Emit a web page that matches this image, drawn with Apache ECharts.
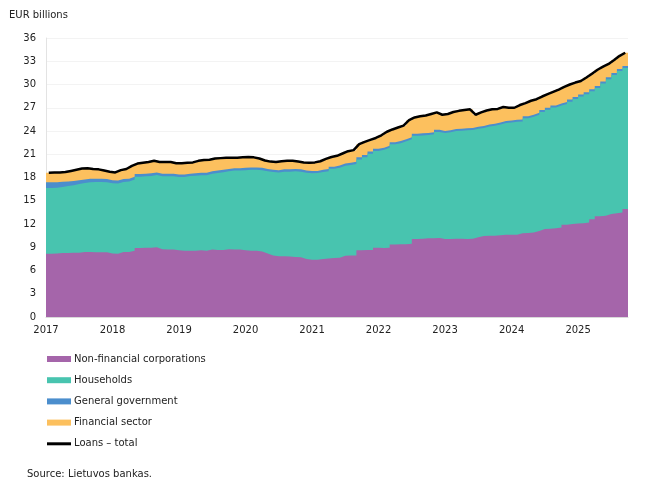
<!DOCTYPE html>
<html>
<head>
<meta charset="utf-8">
<script src="https://cdn.jsdelivr.net/npm/echarts@6/dist/echarts.min.js"></script>
<style>
  html, body { margin: 0; padding: 0; background: #fff; }
  #chart { width: 650px; height: 500px; }
</style>
</head>
<body>
<div id="chart"></div>
<script>
// monthly data, Jan 2017 - Sep 2025, EUR billions
const years = ["2017", "2018", "2019", "2020", "2021", "2022", "2023", "2024", "2025"];

const nonFinancial = [
  8.15, 8.2, 8.25, 8.25, 8.3, 8.3, 8.4, 8.4, 8.35, 8.35, 8.35, 8.2,
  8.15, 8.4, 8.4, 8.55, 8.9, 8.95, 8.95, 9.0, 8.75, 8.7, 8.7, 8.6,
  8.55, 8.55, 8.55, 8.6, 8.55, 8.7, 8.65, 8.65, 8.75, 8.7, 8.7, 8.6,
  8.55, 8.55, 8.45, 8.2, 7.95, 7.85, 7.85, 7.8, 7.75, 7.7, 7.5, 7.4,
  7.4, 7.5, 7.55, 7.6, 7.65, 7.9, 7.95, 7.95, 8.6, 8.65, 8.65, 8.95,
  8.9, 8.95, 9.35, 9.4, 9.4, 9.45, 10.05, 10.1, 10.15, 10.15, 10.2, 10.05,
  10.05, 10.1, 10.1, 10.05, 10.1, 10.3, 10.45, 10.5, 10.5, 10.55, 10.6, 10.6,
  10.6, 10.8, 10.85, 10.9, 11.1, 11.35, 11.4, 11.45, 11.55, 11.9, 12.0, 12.05,
  12.1, 12.2, 12.6, 13.0, 13.05, 13.3, 13.4, 13.5, 13.95
];
const households = [
  8.5, 8.48, 8.52, 8.65, 8.7, 8.85, 8.9, 9.0, 9.08, 9.08, 9.05, 9.05,
  9.07, 9.02, 9.09, 9.19, 9.2, 9.2, 9.25, 9.31, 9.41, 9.47, 9.47, 9.47,
  9.53, 9.63, 9.68, 9.68, 9.74, 9.79, 9.94, 10.04, 10.05, 10.2, 10.2, 10.35,
  10.45, 10.45, 10.5, 10.6, 10.75, 10.8, 10.9, 10.95, 11.05, 11.05, 11.1, 11.15,
  11.17, 11.22, 11.27, 11.52, 11.62, 11.62, 11.67, 11.8, 11.72, 11.97, 12.42, 12.47,
  12.68, 12.88, 12.93, 13.03, 13.28, 13.48, 13.33, 13.33, 13.33, 13.43, 13.68, 13.68,
  13.79, 13.89, 13.94, 14.04, 14.04, 13.99, 13.94, 14.09, 14.19, 14.29, 14.44, 14.49,
  14.59, 14.44, 14.79, 14.94, 14.99, 15.09, 15.34, 15.59, 15.74, 15.59, 15.79, 16.09,
  16.34, 16.54, 16.54, 16.54, 17.09, 17.39, 17.84, 18.24, 18.19
];
const government = [
  0.75, 0.72, 0.68, 0.6, 0.55, 0.5, 0.45, 0.45, 0.42, 0.42, 0.4, 0.4,
  0.38, 0.38, 0.36, 0.36, 0.35, 0.35, 0.35, 0.34, 0.34, 0.33, 0.33, 0.33,
  0.32, 0.32, 0.32, 0.32, 0.31, 0.31, 0.31, 0.31, 0.3, 0.3, 0.3, 0.3,
  0.3, 0.3, 0.3, 0.3, 0.3, 0.3, 0.3, 0.3, 0.3, 0.3, 0.3, 0.3,
  0.28, 0.28, 0.28, 0.28, 0.28, 0.28, 0.28, 0.28, 0.28, 0.28, 0.28, 0.28,
  0.27, 0.27, 0.27, 0.27, 0.27, 0.27, 0.27, 0.27, 0.27, 0.27, 0.27, 0.27,
  0.26, 0.26, 0.26, 0.26, 0.26, 0.26, 0.26, 0.26, 0.26, 0.26, 0.26, 0.26,
  0.26, 0.26, 0.26, 0.26, 0.26, 0.26, 0.26, 0.26, 0.26, 0.26, 0.26, 0.26,
  0.26, 0.26, 0.26, 0.26, 0.26, 0.26, 0.26, 0.26, 0.26
];
const financial = [
  1.2, 1.25, 1.2, 1.2, 1.3, 1.35, 1.4, 1.35, 1.25, 1.2, 1.1, 1.1,
  1.05, 1.15, 1.25, 1.4, 1.35, 1.4, 1.45, 1.5, 1.5, 1.5, 1.5, 1.45,
  1.45, 1.4, 1.4, 1.55, 1.65, 1.5, 1.55, 1.5, 1.45, 1.35, 1.35, 1.35,
  1.35, 1.3, 1.2, 1.1, 1.05, 1.05, 1.05, 1.1, 1.05, 1.0, 1.05, 1.05,
  1.1, 1.1, 1.3, 1.25, 1.25, 1.3, 1.5, 1.5, 1.7, 1.7, 1.5, 1.4,
  1.6, 1.8, 1.65, 1.75, 1.75, 2.2, 2.1, 2.2, 2.25, 2.35, 2.25, 2.1,
  2.1, 2.2, 2.3, 2.35, 2.4, 1.55, 1.75, 1.8, 1.85, 1.75, 1.8, 1.65,
  1.55, 1.85, 1.7, 1.8, 1.75, 1.75, 1.75, 1.75, 1.8, 1.95, 1.95, 1.85,
  1.75, 1.9, 2.0, 2.1, 1.9, 1.7, 1.65, 1.7, 1.7
];

const FONT = "DejaVu Sans";
const TXT = "#222";
const n = nonFinancial.length; // months since Jan 2017

// cumulative tops of the stack
const top1 = nonFinancial.slice();
const top2 = top1.map((v, i) => v + households[i]);
const top3 = top2.map((v, i) => v + government[i]);
const top4 = top3.map((v, i) => v + financial[i]); // loans total

// each month is a flat step from i to i+1
function steps(arr) {
  const pts = arr.map((v, i) => [i, v]);
  pts.push([n, arr[n - 1]]);
  return pts;
}

function band(name, arr, color) {
  return {
    name: name,
    type: "line",
    step: "end",
    data: steps(arr),
    symbol: "none",
    itemStyle: { color: color },
    lineStyle: { width: 0, color: color },
    areaStyle: { color: color, opacity: 1 },
    emphasis: { disabled: true },
  };
}

const myChart = echarts.init(document.getElementById("chart"));
myChart.setOption({
  animation: false,
  textStyle: { fontFamily: FONT, color: TXT },
  title: {
    text: "EUR billions",
    left: 9,
    top: 10,
    padding: 0,
    textStyle: { fontFamily: FONT, fontSize: 10, fontWeight: "normal", color: TXT },
  },
  grid: { left: 46, right: 22, top: 38, bottom: 183 },
  legend: {
    orient: "vertical",
    left: 47,
    top: 354,
    padding: 0,
    itemWidth: 24,
    itemHeight: 6,
    itemGap: 11.2,
    textStyle: { fontFamily: FONT, fontSize: 10, color: TXT, padding: [0, 0, 0, -2] },
    data: [
      { name: "Non-financial corporations", icon: "rect" },
      { name: "Households", icon: "rect" },
      { name: "General government", icon: "rect" },
      { name: "Financial sector", icon: "rect" },
      { name: "Loans – total", icon: "path://M0,0H24V3H0Z" },
    ],
  },
  xAxis: {
    type: "value",
    min: 0,
    max: n,
    interval: 12,
    axisLine: { show: true, onZero: false, lineStyle: { color: "#d9d9d9" } },
    axisTick: { show: false },
    splitLine: { show: false },
    axisLabel: {
      fontSize: 10,
      color: TXT,
      margin: 8,
      showMaxLabel: false,
      formatter: (v) => (v % 12 === 0 ? years[v / 12] || "" : ""),
    },
  },
  yAxis: {
    type: "value",
    min: 0,
    max: 36,
    interval: 3,
    axisLine: { show: true, lineStyle: { color: "#e3e3e3" } },
    axisTick: { show: false },
    axisLabel: { fontSize: 10, color: TXT, margin: 10 },
    splitLine: { lineStyle: { color: "#f3f3f3", width: 1 } },
  },
  series: [
    // drawn from the top of the stack down, each area filled from zero
    band("Financial sector", top4, "#fcc05e"),
    band("General government", top3, "#4b8ecd"),
    band("Households", top2, "#48c4af"),
    band("Non-financial corporations", top1, "#a565aa"),
    {
      name: "Loans – total",
      type: "line",
      data: top4.map((v, i) => [i + 0.5, +v.toFixed(2)]),
      symbol: "none",
      z: 5,
      itemStyle: { color: "#000" },
      lineStyle: { color: "#000", width: 2.5 },
      emphasis: { disabled: true },
    },
  ],
  graphic: [
    {
      type: "text",
      left: 27,
      top: 469,
      style: { text: "Source: Lietuvos bankas.", fontFamily: FONT, fontSize: 10, fill: TXT },
    },
  ],
});
</script>
</body>
</html>
